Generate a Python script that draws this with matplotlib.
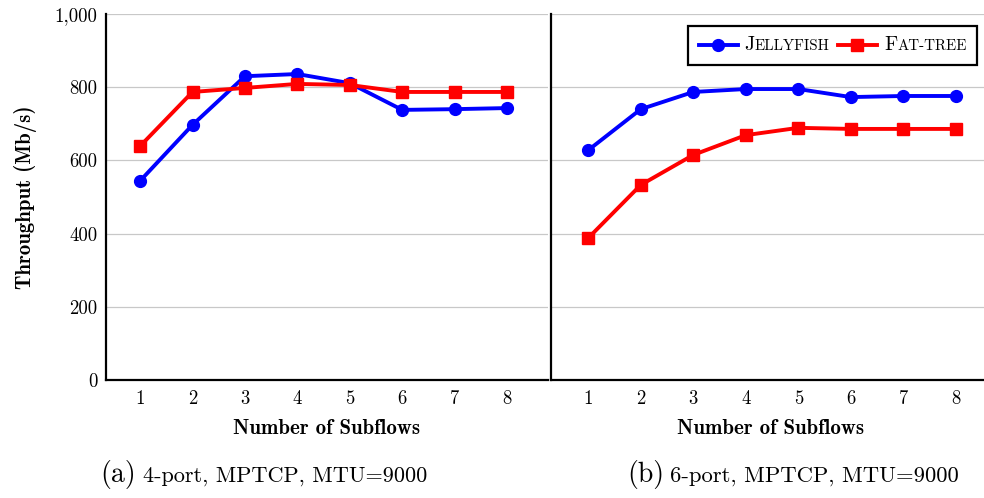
import matplotlib
matplotlib.use("Agg")
import matplotlib.pyplot as plt
from matplotlib.lines import Line2D
from matplotlib.offsetbox import AnchoredOffsetbox, HPacker, TextArea, DrawingArea

plt.rcParams['font.family'] = ['cmr10', 'DejaVu Serif']
plt.rcParams['axes.formatter.use_mathtext'] = True
plt.rcParams['mathtext.fontset'] = 'cm'

subflows = [1, 2, 3, 4, 5, 6, 7, 8]
jelly_4port = [544, 697, 830, 836, 811, 738, 740, 743]
fat_4port = [639, 787, 798, 809, 806, 787, 787, 787]
jelly_6port = [628, 740, 787, 795, 795, 773, 776, 776]
fat_6port = [388, 533, 615, 669, 689, 686, 686, 686]
yticks = [0, 200, 400, 600, 800, 1000]
ytick_labels = ['0', '200', '400', '600', '800', '1,000']
captions = [('(a)', '4-port, MPTCP, MTU=9000'), ('(b)', '6-port, MPTCP, MTU=9000')]

W, H = 984, 498
fig = plt.figure(figsize=(W / 100, H / 100), dpi=100)

def fx(px):
    return px / W

def fy(py):
    return 1 - py / H

BLUE = (0, 0, 1)
RED = (1, 0, 0)
LW = 2.8
TICK_FS = 13.5
LABEL_FS = 15

ax1 = fig.add_axes([fx(106), fy(380), fx(548 - 106), fy(14) - fy(380)])
ax2 = fig.add_axes([fx(551), fy(380), fx(990 - 551), fy(14) - fy(380)])

for ax, jd, fd, xlim in [(ax1, jelly_4port, fat_4port, (0.35, 8.78)),
                         (ax2, jelly_6port, fat_6port, (0.29, 8.65))]:
    ax.plot(subflows, jd, color=BLUE, lw=LW, marker='o', ms=8.5, zorder=3)
    ax.plot(subflows, fd, color=RED, lw=LW, marker='s', ms=8.5, zorder=3)
    ax.set_xlim(*xlim)
    ax.set_ylim(0, 1000)
    ax.set_xticks(subflows)
    ax.set_xticklabels([str(s) for s in subflows], fontsize=TICK_FS)
    ax.set_yticks(yticks)
    ax.grid(axis='y', color='#c8c8c8', lw=0.9)
    ax.set_axisbelow(True)
    for s in ['top', 'right']:
        ax.spines[s].set_visible(False)
    for s in ['left', 'bottom']:
        ax.spines[s].set_linewidth(1.6)
    ax.tick_params(length=0, pad=7)
    ax.set_xlabel('Number of Subflows', family='cmb10', fontsize=LABEL_FS, labelpad=8)

ax1.set_yticklabels(ytick_labels, fontsize=TICK_FS)
ax1.tick_params(axis='y', pad=6)
ax1.set_ylabel('Throughput (Mb/s)', family='cmb10', fontsize=LABEL_FS, labelpad=13)
ax2.set_yticklabels([])

# captions
fig.text(fx(100), fy(474), captions[0][0], fontsize=20, va='center', ha='left')
fig.text(fx(143), fy(476), captions[0][1], fontsize=16, va='center', ha='left')
fig.text(fx(627), fy(474), captions[1][0], fontsize=20, va='center', ha='left')
fig.text(fx(670), fy(476), captions[1][1], fontsize=16.3, va='center', ha='left')

# legend with small caps (DrawingArea units are points)
def handle(color, marker):
    da = DrawingArea(28, 8, 0, 0)
    da.add_artist(Line2D([0, 28], [4, 4], color=color, lw=LW))
    da.add_artist(Line2D([14], [4], color=color, marker=marker, ms=8.5))
    return da

def word_box(word):
    parts = [TextArea(word[0], textprops=dict(fontsize=14.5)),
             TextArea(word[1:].upper(), textprops=dict(fontsize=10.8))]
    return HPacker(children=parts, align='baseline', pad=0, sep=0)

row1 = HPacker(children=[handle(BLUE, 'o'), word_box('Jellyfish')],
               align='center', pad=0, sep=5)
row2 = HPacker(children=[handle(RED, 's'), word_box('Fat-tree')],
               align='center', pad=0, sep=5)
items = HPacker(children=[row1, row2], align='center', pad=0, sep=6)
leg = AnchoredOffsetbox(loc='upper right', child=items, pad=0.75, borderpad=0,
                        frameon=True, bbox_to_anchor=(fx(977), fy(26)),
                        bbox_transform=fig.transFigure)
leg.patch.set_edgecolor('black')
leg.patch.set_linewidth(1.6)
leg.patch.set_boxstyle('square', pad=0)
fig.add_artist(leg)

fig.savefig('out.png', dpi=100)
